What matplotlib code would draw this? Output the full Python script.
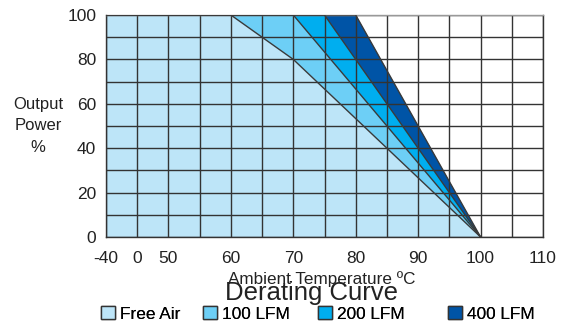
"""Derating curve: output power vs ambient temperature for several airflows."""

import matplotlib
matplotlib.use("Agg")
import matplotlib.pyplot as plt
import numpy as np

plt.rcParams["font.family"] = ["Liberation Sans", "DejaVu Sans"]

# --- data -------------------------------------------------------------
series_names = ["Free Air", "100 LFM", "200 LFM", "400 LFM"]
series_colors = ["#BDE5F8", "#6DCFF6", "#00AEEF", "#0054A6"]

temps_free_air = [-40, 60, 70, 100]
power_free_air = [100, 100, 80, 0]
temps_100lfm = [-40, 70, 100]
power_100lfm = [100, 100, 0]
temps_200lfm = [-40, 75, 100]
power_200lfm = [100, 100, 0]
temps_400lfm = [-40, 80, 100]
power_400lfm = [100, 100, 0]

x_tick_values = [-40, 0, 50, 60, 70, 80, 90, 100, 110]
x_grid_values = [-40, 0, 50, 55, 60, 65, 70, 75, 80, 85, 90, 95, 100, 105, 110]
y_tick_values = [0, 20, 40, 60, 80, 100]
y_grid_values = list(range(0, 101, 10))

# piecewise axis: -40..0 and 0..50 take one cell each, then 5 degC per cell
_scale_temp = [-40, 0, 50, 110]
_scale_idx = [0, 1, 2, 14]


def _fwd(t):
    return np.interp(t, _scale_temp, _scale_idx)


def _inv(i):
    return np.interp(i, _scale_idx, _scale_temp)


fig = plt.figure(figsize=(5.69, 3.24), dpi=100)
ax = fig.add_axes([106 / 569, 1 - 237 / 324, 437 / 569, 222 / 324])
ax.set_xscale("function", functions=(_fwd, _inv))
ax.set_xlim(-40, 110)
ax.set_ylim(0, 100)

curves = [
    (temps_400lfm, power_400lfm),
    (temps_200lfm, power_200lfm),
    (temps_100lfm, power_100lfm),
    (temps_free_air, power_free_air),
]
colors_back_to_front = series_colors[::-1]
names_back_to_front = series_names[::-1]

handles = {}
for (temps, power), color, name in zip(curves, colors_back_to_front, names_back_to_front):
    ax.fill_between(temps, power, 0, color=color, linewidth=0, zorder=1)
    ax.plot(temps, power, color="#3a3a3a", linewidth=1.0, zorder=3)
    handles[name] = plt.Rectangle((0, 0), 1, 1, facecolor=color,
                                  edgecolor="#333333", linewidth=1.0)

for xv in x_grid_values:
    ax.axvline(xv, color="#333333", linewidth=1.0, zorder=2)
for yv in y_grid_values:
    ax.axhline(yv, color="#333333", linewidth=1.0, zorder=2)

for spine in ax.spines.values():
    spine.set_color("#333333")
    spine.set_linewidth(1.0)
ax.spines["top"].set_color("#999999")

ax.set_xticks(x_tick_values)
ax.set_xticklabels([str(v) for v in x_tick_values])
ax.set_yticks(y_tick_values)
ax.set_yticklabels([str(v) for v in y_tick_values])
ax.xaxis.set_minor_locator(matplotlib.ticker.NullLocator())
ax.tick_params(axis="both", length=0, labelsize=12.5, colors="#222222")
ax.tick_params(axis="x", pad=10)
ax.tick_params(axis="y", pad=7)

fig.text(38 / 569, 1 - 126 / 324, "Output\nPower\n%", ha="center", va="center",
         fontsize=12, linespacing=1.55, color="#222222")
fig.text(322 / 569, 1 - 279 / 324, "Ambient Temperature ºC", ha="center",
         va="center", fontsize=12.3, color="#222222")
fig.text(311 / 569, 1 - 293 / 324, "Derating Curve", ha="center", va="center",
         fontsize=18.5, color="#222222")

# legend entries sit at uneven spacing in the original, so one legend each
legend_left_px = [101, 203, 318, 448]
for name, left in zip(series_names, legend_left_px):
    leg = fig.legend([handles[name]], [name], loc="center left",
                     bbox_to_anchor=(left / 569, 1 - 314 / 324),
                     frameon=False, fontsize=12.4, handlelength=0.8,
                     handleheight=0.8, handletextpad=0.3,
                     borderpad=0, borderaxespad=0)
    fig.add_artist(leg)

fig.savefig("out.png", dpi=100)
